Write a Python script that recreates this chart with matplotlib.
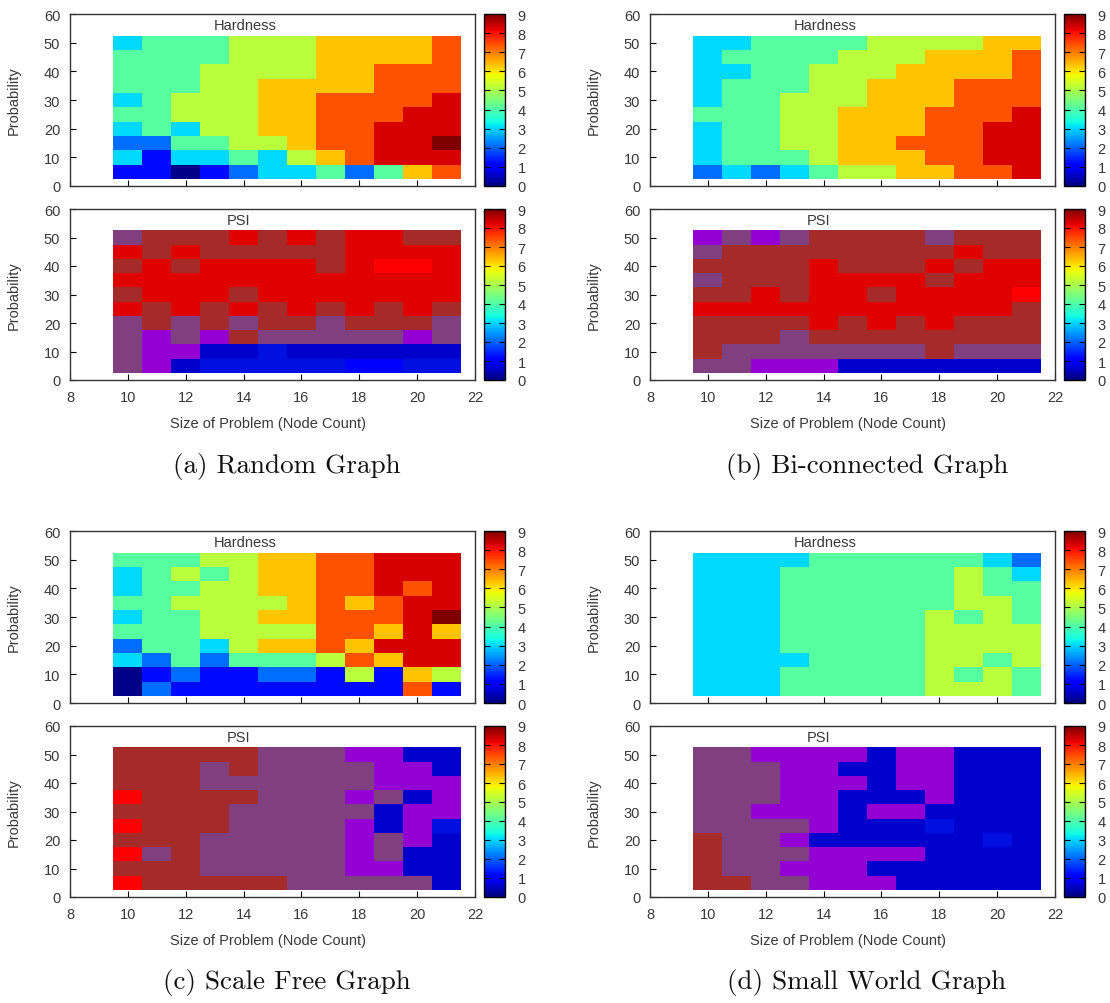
import numpy as np
import matplotlib
matplotlib.use('Agg')
import matplotlib.pyplot as plt
from matplotlib.colors import ListedColormap, BoundaryNorm, Normalize
import matplotlib.cm as cm

plt.rcParams['font.family'] = ['Liberation Sans', 'DejaVu Sans']

# x = node count (columns), y = probability (rows, listed top row first: 50 ... 5)
nodes = np.arange(10, 22)
probs = np.arange(50, 0, -5)

# hardness: level codes 0..9, each code is the hardness value below
hard_levels = [0.1, 1.2, 2.1, 3.05, 4.1, 5.2, 6.3, 7.4, 8.3, 9.0]

# PSI: category codes -> colours
# 0 medium blue, 1 blue, 2 bright blue, 3 violet, 4 purple, 5 brown, 6 red, 7 bright red
psi_colors = ['#0000cd', '#0010e0', '#0000ff', '#9400d3', '#804080', '#a52a2a', '#e00000', '#ff0000']

hard_random = [
    [3, 4, 4, 4, 5, 5, 5, 6, 6, 6, 6, 7],
    [4, 4, 4, 4, 5, 5, 5, 6, 6, 6, 6, 7],
    [4, 4, 4, 5, 5, 5, 5, 6, 6, 7, 7, 7],
    [4, 4, 4, 5, 5, 6, 6, 6, 6, 7, 7, 7],
    [3, 4, 5, 5, 5, 6, 6, 7, 7, 7, 7, 8],
    [4, 4, 5, 5, 5, 6, 6, 7, 7, 7, 8, 8],
    [3, 4, 3, 5, 5, 6, 6, 7, 7, 8, 8, 8],
    [2, 2, 4, 4, 5, 5, 6, 7, 7, 8, 8, 9],
    [3, 1, 3, 3, 4, 3, 5, 6, 7, 8, 8, 8],
    [1, 1, 0, 1, 2, 3, 3, 4, 2, 4, 6, 7],
]
psi_random = [
    [4, 5, 5, 5, 6, 5, 6, 5, 6, 6, 5, 5],
    [6, 5, 6, 5, 5, 5, 5, 5, 6, 6, 6, 6],
    [5, 6, 5, 6, 6, 6, 6, 5, 6, 7, 7, 6],
    [6, 6, 6, 6, 6, 6, 6, 6, 6, 6, 6, 6],
    [5, 6, 6, 6, 5, 6, 6, 6, 6, 6, 6, 6],
    [6, 5, 6, 5, 6, 5, 6, 5, 6, 5, 6, 5],
    [4, 5, 4, 5, 4, 5, 5, 4, 5, 5, 5, 4],
    [4, 3, 4, 3, 5, 4, 4, 4, 4, 4, 3, 4],
    [4, 3, 3, 0, 0, 1, 0, 0, 0, 0, 0, 0],
    [4, 3, 0, 1, 1, 1, 1, 1, 2, 2, 1, 1],
]

hard_biconn = [
    [3, 3, 4, 4, 4, 4, 5, 5, 5, 5, 6, 6],
    [3, 4, 4, 4, 4, 5, 5, 5, 6, 6, 6, 7],
    [3, 3, 4, 4, 5, 5, 5, 6, 6, 6, 6, 7],
    [3, 4, 4, 4, 5, 5, 6, 6, 6, 7, 7, 7],
    [3, 4, 4, 5, 5, 5, 6, 6, 6, 7, 7, 7],
    [4, 4, 4, 5, 5, 6, 6, 6, 7, 7, 7, 8],
    [3, 4, 4, 5, 5, 6, 6, 6, 7, 7, 8, 8],
    [3, 4, 4, 5, 5, 6, 6, 7, 7, 7, 8, 8],
    [3, 4, 4, 4, 5, 6, 6, 6, 7, 7, 8, 8],
    [2, 3, 2, 3, 4, 5, 5, 6, 6, 7, 7, 8],
]
psi_biconn = [
    [3, 4, 3, 4, 5, 5, 5, 5, 4, 5, 5, 5],
    [4, 5, 5, 5, 5, 5, 5, 5, 5, 6, 5, 5],
    [5, 5, 5, 5, 6, 5, 5, 5, 6, 5, 6, 6],
    [4, 5, 5, 5, 6, 6, 6, 6, 5, 6, 6, 6],
    [5, 5, 6, 5, 6, 6, 5, 6, 6, 6, 6, 7],
    [6, 6, 6, 6, 6, 6, 6, 6, 6, 6, 6, 5],
    [5, 5, 5, 5, 6, 5, 6, 5, 6, 5, 5, 5],
    [5, 5, 5, 4, 5, 5, 5, 5, 5, 5, 5, 5],
    [5, 4, 4, 4, 4, 4, 4, 4, 5, 4, 4, 4],
    [4, 4, 3, 3, 3, 0, 0, 0, 0, 0, 0, 0],
]

hard_scalefree = [
    [4, 4, 4, 5, 5, 6, 6, 7, 7, 8, 8, 8],
    [3, 4, 5, 4, 5, 6, 6, 7, 7, 8, 8, 8],
    [3, 4, 4, 5, 5, 6, 6, 7, 7, 8, 7, 8],
    [4, 4, 5, 5, 5, 5, 6, 7, 6, 7, 8, 8],
    [3, 4, 4, 5, 5, 6, 6, 7, 7, 7, 8, 9],
    [4, 4, 4, 5, 5, 5, 5, 7, 7, 6, 8, 6],
    [2, 4, 4, 3, 5, 6, 6, 7, 6, 8, 8, 8],
    [3, 2, 4, 2, 4, 4, 4, 5, 7, 6, 8, 8],
    [0, 1, 2, 1, 1, 2, 2, 1, 5, 1, 6, 5],
    [0, 2, 1, 1, 1, 1, 1, 1, 1, 1, 7, 1],
]
psi_scalefree = [
    [5, 5, 5, 5, 5, 4, 4, 4, 3, 3, 0, 0],
    [5, 5, 5, 4, 5, 4, 4, 4, 4, 3, 3, 0],
    [5, 5, 5, 4, 4, 4, 4, 4, 4, 3, 3, 3],
    [7, 5, 5, 5, 5, 4, 4, 4, 3, 4, 0, 3],
    [5, 5, 5, 5, 4, 4, 4, 4, 4, 0, 3, 3],
    [7, 5, 5, 5, 4, 4, 4, 4, 3, 0, 3, 1],
    [5, 5, 5, 4, 4, 4, 4, 4, 3, 4, 3, 0],
    [7, 4, 5, 4, 4, 4, 4, 4, 3, 4, 0, 0],
    [5, 5, 5, 4, 4, 4, 4, 4, 3, 3, 0, 0],
    [7, 5, 5, 5, 5, 5, 4, 4, 4, 4, 4, 0],
]

hard_smallworld = [
    [3, 3, 3, 3, 4, 4, 4, 4, 4, 4, 3, 2],
    [3, 3, 3, 4, 4, 4, 4, 4, 4, 5, 4, 3],
    [3, 3, 3, 4, 4, 4, 4, 4, 4, 5, 4, 4],
    [3, 3, 3, 4, 4, 4, 4, 4, 4, 5, 5, 4],
    [3, 3, 3, 4, 4, 4, 4, 4, 5, 4, 5, 4],
    [3, 3, 3, 4, 4, 4, 4, 4, 5, 5, 5, 5],
    [3, 3, 3, 4, 4, 4, 4, 4, 5, 5, 5, 5],
    [3, 3, 3, 3, 4, 4, 4, 4, 5, 5, 4, 5],
    [3, 3, 3, 4, 4, 4, 4, 4, 5, 4, 5, 4],
    [3, 3, 3, 4, 4, 4, 4, 4, 5, 5, 5, 4],
]
psi_smallworld = [
    [4, 4, 3, 3, 3, 3, 0, 3, 3, 0, 0, 0],
    [4, 4, 4, 3, 3, 0, 0, 3, 3, 0, 0, 0],
    [4, 4, 4, 3, 3, 3, 0, 3, 3, 0, 0, 0],
    [4, 4, 4, 3, 3, 0, 0, 0, 3, 0, 0, 0],
    [4, 4, 3, 3, 3, 0, 3, 3, 0, 0, 0, 0],
    [4, 4, 4, 4, 3, 0, 0, 0, 1, 0, 0, 0],
    [5, 4, 4, 3, 0, 0, 0, 0, 0, 0, 1, 0],
    [5, 4, 4, 4, 3, 3, 3, 3, 0, 0, 0, 0],
    [5, 4, 4, 3, 3, 3, 0, 0, 0, 0, 0, 0],
    [5, 5, 4, 4, 3, 3, 3, 0, 0, 0, 0, 0],
]

captions = ['(a) Random Graph', '(b) Bi-connected Graph',
            '(c) Scale Free Graph', '(d) Small World Graph']

W, H = 1110, 1004
TXT = '#383838'
fig = plt.figure(figsize=(W / 100, H / 100), dpi=100)


def px_axes(left, top, right, bottom):
    return fig.add_axes([left / W, 1 - bottom / H, (right - left) / W, (bottom - top) / H])


jet_norm = Normalize(0, 9)
psi_cmap = ListedColormap(psi_colors)
psi_norm = BoundaryNorm(np.arange(-0.5, len(psi_colors)), len(psi_colors))
x_edges = np.append(nodes - 0.5, nodes[-1] + 0.5)
y_edges = np.append(probs[::-1] - 2.5, probs[0] + 2.5)


def heat_panel(left, top, bottom, z, cmap, norm, title, tx, show_x):
    ax = px_axes(left, top, left + 405, bottom)
    ax.pcolormesh(x_edges, y_edges, z, cmap=cmap, norm=norm, shading='flat',
                  edgecolors='none', antialiased=False)
    ax.set_xlim(8, 22)
    ax.set_ylim(0, 60)
    ax.set_xticks(np.arange(8, 23, 2))
    ax.set_yticks(np.arange(0, 61, 10))
    ax.tick_params(direction='in', length=4, width=0.8, labelsize=10.5,
                   labelcolor=TXT, pad=7, top=False, right=False)
    if not show_x:
        ax.set_xticklabels([])
    else:
        ax.set_xlabel('Size of Problem (Node Count)', fontsize=10.5, color=TXT)
        ax.xaxis.set_label_coords(0.49, -0.21)
    ax.set_ylabel('Probability', fontsize=10.5, color=TXT)
    ax.yaxis.set_label_coords(-0.121, 0.5)
    for s in ax.spines.values():
        s.set_color('#333333')
        s.set_linewidth(1)
    ax.text(tx, 0.936, title, transform=ax.transAxes, ha='center', va='center',
            fontsize=10.5, color=TXT)

    cax = px_axes(left + 414, top, left + 435, bottom)
    cb = fig.colorbar(cm.ScalarMappable(norm=jet_norm, cmap='jet'), cax=cax,
                      ticks=range(10))
    cb.outline.set_linewidth(1)
    cax.tick_params(direction='in', length=4, width=0.8, left=True, right=True,
                    labelsize=10.5, labelcolor=TXT, pad=9)
    return ax


panels = [
    (hard_random, psi_random, 70, 15),
    (hard_biconn, psi_biconn, 650, 15),
    (hard_scalefree, psi_scalefree, 70, 532),
    (hard_smallworld, psi_smallworld, 650, 532),
]

for (hard, psi, left, top), cap in zip(panels, captions):
    hz = np.array(hard_levels)[np.array(hard)][::-1]
    pz = np.array(psi)[::-1]
    heat_panel(left, top, top + 172, hz, 'jet', jet_norm, 'Hardness', 0.432, False)
    heat_panel(left, top + 195, top + 366, pz, psi_cmap, psi_norm, 'PSI', 0.415, True)
    fig.text((left + 217) / W, 1 - (top + 451) / H, cap, ha='center', va='center',
             fontsize=19.5, family=['cmr10', 'DejaVu Serif'], color='#111111')

plt.savefig('out.png', dpi=100)
